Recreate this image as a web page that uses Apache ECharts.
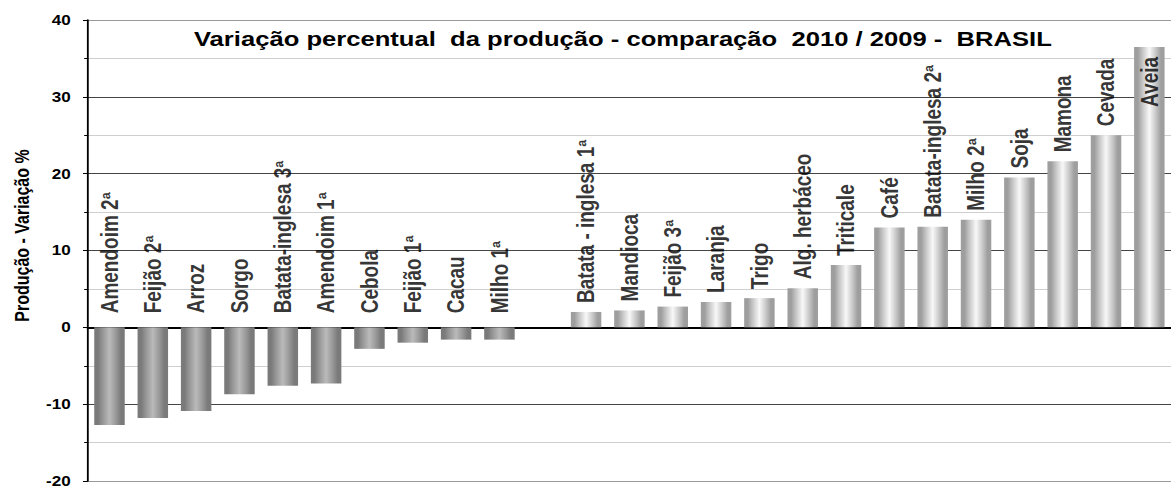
<!DOCTYPE html>
<html>
<head>
<meta charset="utf-8">
<script src="https://cdn.jsdelivr.net/npm/echarts@6/dist/echarts.min.js"></script>
<style>
  html, body { margin: 0; padding: 0; background: #fff; overflow: hidden; }
  /* the reference is stretched sideways, so draw narrower and stretch */
  #chart { width: 960px; height: 488px; transform: scaleX(1.2198); transform-origin: 0 0; }
</style>
</head>
<body>
<div id="chart"></div>
<script>
const categories = [
  'Amendoim 2ª', 'Feijão 2ª', 'Arroz', 'Sorgo', 'Batata-inglesa 3ª', 'Amendoim 1ª',
  'Cebola', 'Feijão 1ª', 'Cacau', 'Milho 1ª', '',
  'Batata - inglesa 1ª', 'Mandioca', 'Feijão 3ª', 'Laranja', 'Trigo', 'Alg. herbáceo',
  'Triticale', 'Café', 'Batata-inglesa 2ª', 'Milho 2ª', 'Soja', 'Mamona', 'Cevada', 'Aveia'
]
const variacao = [
  -12.7, -11.8, -10.9, -8.7, -7.6, -7.3,
  -2.8, -2.0, -1.6, -1.6, null,
  2.0, 2.2, 2.7, 3.3, 3.8, 5.1,
  8.1, 13.0, 13.1, 14.0, 19.5, 21.6, 25.0, 36.5
]
const yTicks = { min: -20, max: 40, interval: 10 }

const fontFamily = '"Liberation Sans", Arial, sans-serif'

function barGradient(v) {
  const outer = v < 0 ? '#7a7a7a' : '#9e9e9e'
  const mid = v < 0 ? '#979797' : '#c6c6c6'
  const center = v < 0 ? '#bababa' : '#f8f8f8'
  return new echarts.graphic.LinearGradient(0, 0, 1, 0, [
    { offset: 0, color: outer },
    { offset: 0.12, color: outer },
    { offset: 0.28, color: mid },
    { offset: 0.5, color: center },
    { offset: 0.72, color: mid },
    { offset: 0.88, color: outer },
    { offset: 1, color: outer }
  ])
}

const barData = variacao.map(v => v == null ? '-' : { value: v, itemStyle: { color: barGradient(v) } })

// label anchors: on the zero line for negative bars, on the bar top otherwise
const labelData = variacao.map(v => {
  if (v == null) return '-'
  let distance = v < 0 ? 14 : 9
  if (v > 30) distance = -60 // too tall, label goes inside the bar
  return { value: Math.max(v, 0), label: { distance: distance } }
})

const chart = echarts.init(document.getElementById('chart'), null, { renderer: 'svg' })
chart.setOption({
  animation: false,
  title: {
    text: 'Variação percentual  da produção - comparação  2010 / 2009 -  BRASIL',
    left: 154,
    top: 23,
    textStyle: { fontFamily: fontFamily, fontSize: 21, fontWeight: 'bold', color: '#000' }
  },
  grid: {
    left: 72,
    right: -8.3,
    top: 20,
    bottom: 2
  },
  xAxis: {
    type: 'category',
    data: categories,
    axisLine: { onZero: true, lineStyle: { color: '#000', width: 2 } },
    axisTick: { show: false },
    axisLabel: { show: false },
    splitLine: { show: false }
  },
  yAxis: {
    type: 'value',
    min: yTicks.min,
    max: yTicks.max,
    interval: yTicks.interval,
    name: 'Produção - Variação %',
    nameLocation: 'middle',
    nameGap: 46,
    nameTextStyle: { fontFamily: fontFamily, fontSize: 16, fontWeight: 'bold', color: '#000', padding: [0, 0, 0, 30] },
    axisLine: { show: true, lineStyle: { color: '#000', width: 1.5 } },
    axisTick: { show: true, length: 4, lineStyle: { color: '#000' } },
    minorTick: { show: true, splitNumber: 2, length: 3, lineStyle: { color: '#000' } },
    axisLabel: { fontFamily: fontFamily, fontSize: 14, fontWeight: 'bold', color: '#000', margin: 14 },
    splitLine: { lineStyle: { color: ['#9a9a9a', '#444', '#444', '#444', '#444', '#444', '#9a9a9a'], width: 1 } },
    minorSplitLine: { show: true, lineStyle: { color: '#cfcfcf', width: 1 } }
  },
  series: [
    {
      type: 'bar',
      data: barData,
      barWidth: 25,
      silent: true
    },
    {
      type: 'scatter',
      data: labelData,
      symbolSize: 0,
      silent: true,
      z: 5,
      label: {
        show: true,
        position: 'top',
        rotate: 90,
        align: 'left',
        verticalAlign: 'middle',
        formatter: p => categories[p.dataIndex],
        fontFamily: fontFamily,
        fontSize: 19,
        fontWeight: 'bold',
        color: '#000'
      }
    }
  ]
})
</script>
</body>
</html>
